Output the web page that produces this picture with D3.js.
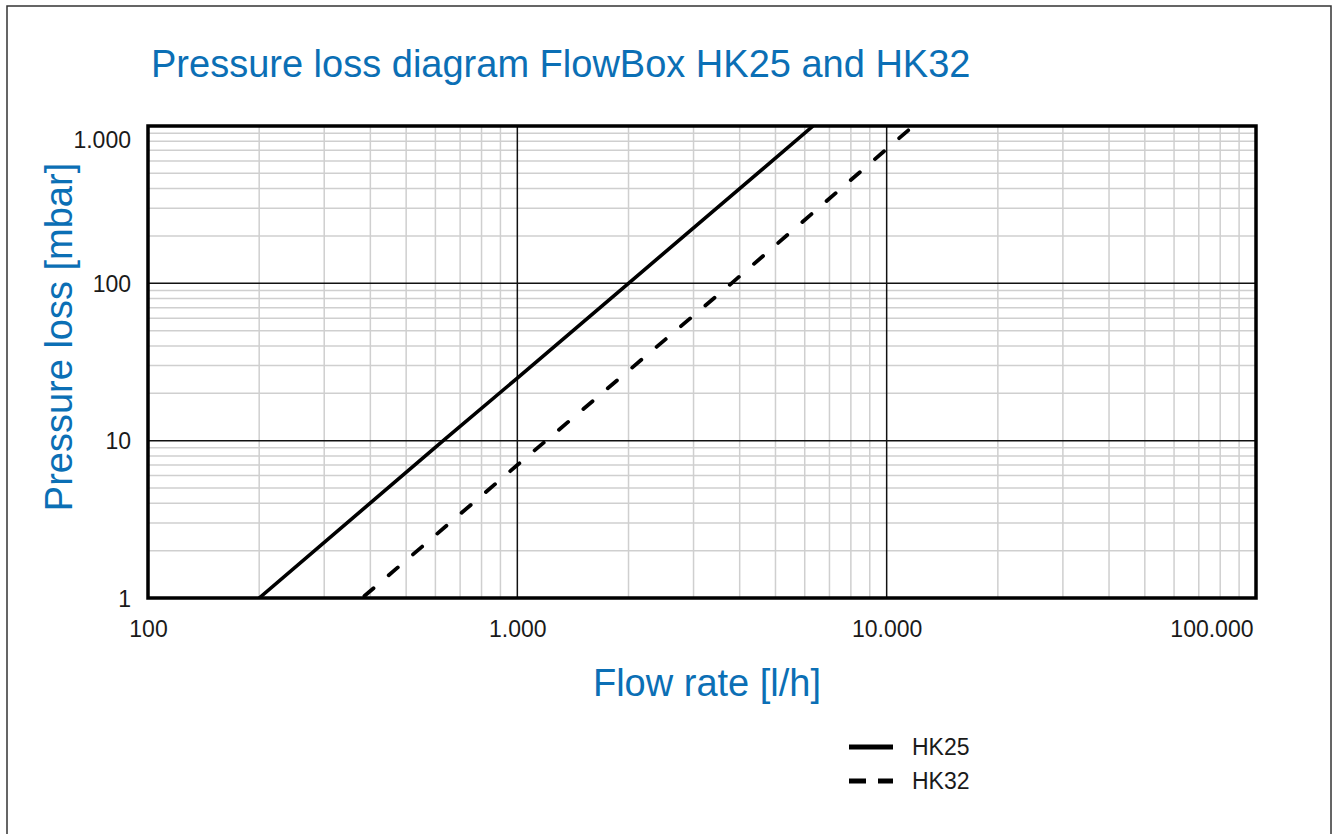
<!DOCTYPE html>
<html>
<head>
<meta charset="utf-8">
<script src="https://cdn.jsdelivr.net/npm/d3@7"></script>
<style>
  body { margin: 0; background: #fff; }
  svg { display: block; font-family: "Liberation Sans", Arial, sans-serif; }
</style>
</head>
<body>
<svg id="chart" width="1338" height="834"></svg>
<script>
// data
var hk25Flow = [200, 630, 1000, 2000, 6320];
var hk25Loss = [1, 10, 25, 100, 1000];
var hk32Flow = [380, 1000, 3800, 11800];
var hk32Loss = [1, 7, 100, 1000];

var xTicks = [100, 1000, 10000, 100000];
var xTickLabels = ["100", "1.000", "10.000", "100.000"];
var yTicks = [1, 10, 100, 1000];
var yTickLabels = ["1", "10", "100", "1.000"];

var seriesNames = ["HK25", "HK32"];

var main = function() {

  var blue = "#0b6fb5";

  var svg = d3.select("#chart");

  // outer frame, bottom runs off the page
  svg.append("rect")
    .attr("x", 7).attr("y", 6)
    .attr("width", 1324).attr("height", 900)
    .attr("fill", "none").attr("stroke", "#333").attr("stroke-width", 1.5);

  var pLeft = 148, pRight = 1256, pTop = 126, pBottom = 598;

  var x = d3.scaleLog().domain([100, 100000]).range([pLeft, pRight]);
  var y = d3.scaleLog().domain([1, 1000]).range([pBottom, pTop]);

  // minor grid values 2..9 per decade
  var minorX = [], minorY = [];
  [100, 1000, 10000].forEach(function(d) {
    for (var i = 2; i <= 9; i++) minorX.push(d * i);
  });
  [1, 10, 100].forEach(function(d) {
    for (var i = 2; i <= 9; i++) minorY.push(d * i);
  });

  var grid = svg.append("g");

  grid.selectAll(".vminor").data(minorX).enter().append("line")
    .attr("x1", function(d) { return x(d); }).attr("x2", function(d) { return x(d); })
    .attr("y1", pTop).attr("y2", pBottom)
    .attr("stroke", "#cfcfcf").attr("stroke-width", 1.5);

  grid.selectAll(".hminor").data(minorY).enter().append("line")
    .attr("y1", function(d) { return y(d); }).attr("y2", function(d) { return y(d); })
    .attr("x1", pLeft).attr("x2", pRight)
    .attr("stroke", "#cfcfcf").attr("stroke-width", 1.5);

  grid.selectAll(".vmajor").data(xTicks.slice(1, 3)).enter().append("line")
    .attr("x1", function(d) { return x(d); }).attr("x2", function(d) { return x(d); })
    .attr("y1", pTop).attr("y2", pBottom)
    .attr("stroke", "#111").attr("stroke-width", 1.5);

  grid.selectAll(".hmajor").data(yTicks.slice(1, 3)).enter().append("line")
    .attr("y1", function(d) { return y(d); }).attr("y2", function(d) { return y(d); })
    .attr("x1", pLeft).attr("x2", pRight)
    .attr("stroke", "#111").attr("stroke-width", 1.5);

  // curves, clipped to the plot box
  svg.append("clipPath").attr("id", "plotclip")
    .append("rect").attr("x", pLeft).attr("y", pTop)
    .attr("width", pRight - pLeft).attr("height", pBottom - pTop);

  var line = d3.line()
    .x(function(d) { return x(d[0]); })
    .y(function(d) { return y(d[1]); });

  var curves = svg.append("g").attr("clip-path", "url(#plotclip)");

  curves.append("path")
    .datum(d3.zip(hk25Flow, hk25Loss))
    .attr("d", line)
    .attr("fill", "none").attr("stroke", "#000").attr("stroke-width", 3.6);

  curves.append("path")
    .datum(d3.zip(hk32Flow, hk32Loss))
    .attr("d", line)
    .attr("fill", "none").attr("stroke", "#000").attr("stroke-width", 3.8)
    .attr("stroke-linecap", "round")
    .attr("stroke-dasharray", "12,20")
    .attr("stroke-dashoffset", -3);

  // plot border
  svg.append("rect")
    .attr("x", pLeft).attr("y", pTop)
    .attr("width", pRight - pLeft).attr("height", pBottom - pTop)
    .attr("fill", "none").attr("stroke", "#000").attr("stroke-width", 3.5);

  // axes (labels only, lines are drawn above)
  var xAxis = d3.axisBottom(x)
    .tickValues(xTicks)
    .tickFormat(function(d, i) { return xTickLabels[i]; })
    .tickSize(0).tickPadding(0);

  var gx = svg.append("g").attr("transform", "translate(0," + pBottom + ")").call(xAxis);
  gx.select(".domain").remove();
  gx.selectAll("text")
    .attr("y", 39).attr("dy", null)
    .style("font-size", "23px").style("fill", "#1a1a1a")
    .style("font-family", "'Liberation Sans', Arial, sans-serif");
  gx.selectAll("text").filter(function(d) { return d === 100000; })
    .attr("text-anchor", "end").attr("x", -3);

  var yAxis = d3.axisLeft(y)
    .tickValues(yTicks)
    .tickFormat(function(d, i) { return yTickLabels[i]; })
    .tickSize(0).tickPadding(0);

  var gy = svg.append("g").attr("transform", "translate(" + pLeft + ",0)").call(yAxis);
  gy.select(".domain").remove();
  gy.selectAll("text")
    .attr("x", -17).attr("dy", "0.35em")
    .style("font-size", "23px").style("fill", "#1a1a1a")
    .style("font-family", "'Liberation Sans', Arial, sans-serif");
  gy.selectAll("text").filter(function(d) { return d === 1000; })
    .attr("y", 13);

  // titles
  svg.append("text")
    .attr("x", 151).attr("y", 77)
    .attr("fill", blue).style("font-size", "38px")
    .text("Pressure loss diagram FlowBox HK25 and HK32");

  svg.append("text")
    .attr("x", 707).attr("y", 696)
    .attr("text-anchor", "middle")
    .attr("fill", blue).style("font-size", "38px")
    .text("Flow rate [l/h]");

  svg.append("text")
    .attr("transform", "translate(72,337) rotate(-90)")
    .attr("text-anchor", "middle")
    .attr("fill", blue).style("font-size", "38px")
    .text("Pressure loss [mbar]");

  // legend
  var legend = svg.append("g");
  var legendY = [747, 781];

  legend.selectAll("line").data(seriesNames).enter().append("line")
    .attr("x1", 849).attr("x2", 893)
    .attr("y1", function(d, i) { return legendY[i]; })
    .attr("y2", function(d, i) { return legendY[i]; })
    .attr("stroke", "#000").attr("stroke-width", 5)
    .attr("stroke-dasharray", function(d, i) { return i === 1 ? "17,12" : null; });

  legend.selectAll("text").data(seriesNames).enter().append("text")
    .attr("x", 912)
    .attr("y", function(d, i) { return legendY[i] + 8; })
    .style("font-size", "23px").attr("fill", "#1a1a1a")
    .text(function(d) { return d; });
}
main()
</script>
</body>
</html>
